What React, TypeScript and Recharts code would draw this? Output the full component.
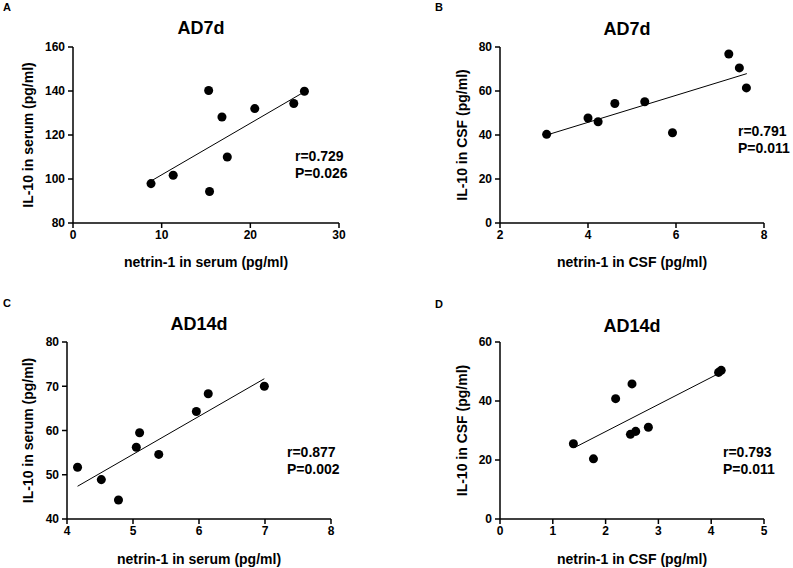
import {
  ScatterChart,
  Scatter,
  XAxis,
  YAxis,
  ZAxis,
  ReferenceLine,
} from "recharts";

// panel A – AD7d serum
const aNetrin = [8.8, 11.3, 15.3, 15.4, 16.8, 17.4, 20.5, 24.9, 26.1];
const aIl10 = [97.9, 101.7, 140.2, 94.3, 128.2, 110.0, 132.0, 134.3, 139.9];
const aFitX = [8.85, 26.0];
const aFitY = [99.2, 139.4];

// panel B – AD7d CSF
const bNetrin = [3.06, 4.0, 4.23, 4.61, 5.29, 5.92, 7.2, 7.44, 7.6];
const bIl10 = [40.3, 47.7, 46.0, 54.3, 55.1, 41.0, 76.8, 70.5, 61.4];
const bFitX = [3.08, 7.61];
const bFitY = [40.1, 67.9];

// panel C – AD14d serum
const cNetrin = [4.16, 4.52, 4.78, 5.05, 5.1, 5.39, 5.96, 6.14, 6.99];
const cIl10 = [51.7, 48.9, 44.3, 56.2, 59.5, 54.6, 64.3, 68.3, 70.0];
const cFitX = [4.16, 6.99];
const cFitY = [47.4, 71.7];

// panel D – AD14d CSF
const dNetrin = [1.39, 1.77, 2.19, 2.47, 2.5, 2.57, 2.81, 4.14, 4.19];
const dIl10 = [25.5, 20.4, 40.8, 28.7, 45.8, 29.7, 31.1, 49.7, 50.4];
const dFitX = [1.42, 4.13];
const dFitY = [24.3, 49.2];

const aXTicks = [0, 10, 20, 30];
const aYTicks = [80, 100, 120, 140, 160];
const bXTicks = [2, 4, 6, 8];
const bYTicks = [0, 20, 40, 60, 80];
const cXTicks = [4, 5, 6, 7, 8];
const cYTicks = [40, 50, 60, 70, 80];
const dXTicks = [0, 1, 2, 3, 4, 5];
const dYTicks = [0, 20, 40, 60];

const FONT = "'Liberation Sans', Arial, Helvetica, sans-serif";
const AXIS = { stroke: "#000", strokeWidth: 1.5 };
const TICK = { fill: "#000", fontSize: 12, fontWeight: 700 };

const toPoints = (xs: number[], ys: number[]) => xs.map((x, i) => ({ x, y: ys[i] }));

interface PanelProps {
  letter: string;
  title: string;
  xLabel: string;
  yLabel: string;
  xs: number[];
  ys: number[];
  fitX: number[];
  fitY: number[];
  xTicks: number[];
  yTicks: number[];
  r: string;
  p: string;
  left: number;
  top: number;
  width: number;
  height: number;
  plotLeft: number;
  plotTop: number;
  plotRight: number;
  plotBottom: number;
  yLabelX: number;
  xLabelGap: number;
  titleX: number;
  titleTop: number;
  letterX: number;
  letterTop: number;
  statX: number;
  statTop: number;
}

function Panel(pr: PanelProps) {
  const data = toPoints(pr.xs, pr.ys);
  const xAxisH = pr.height - pr.plotBottom;
  return (
    <>
      <div style={{ position: "absolute", left: pr.left, top: pr.top }}>
        <ScatterChart
          width={pr.width}
          height={pr.height}
          margin={{ top: pr.plotTop, right: pr.width - pr.plotRight, left: 0, bottom: 0 }}
        >
          <XAxis
            type="number"
            dataKey="x"
            domain={[pr.xTicks[0], pr.xTicks[pr.xTicks.length - 1]]}
            ticks={pr.xTicks}
            height={xAxisH}
            axisLine={AXIS}
            tickLine={AXIS}
            tickSize={5}
            tickMargin={2}
            tick={TICK}
            label={{
              value: pr.xLabel,
              position: "insideBottom",
              offset: xAxisH - pr.xLabelGap,
              style: { fill: "#000", fontSize: 14, fontWeight: 700 },
            }}
          />
          <YAxis
            type="number"
            dataKey="y"
            domain={[pr.yTicks[0], pr.yTicks[pr.yTicks.length - 1]]}
            ticks={pr.yTicks}
            width={pr.plotLeft}
            axisLine={AXIS}
            tickLine={AXIS}
            tickSize={5}
            tickMargin={3}
            tick={TICK}
            label={{
              value: pr.yLabel,
              angle: -90,
              position: "insideLeft",
              offset: pr.yLabelX,
              style: { fill: "#000", fontSize: 14, fontWeight: 700, textAnchor: "middle" },
            }}
          />
          <ZAxis range={[52, 52]} />
          <ReferenceLine
            segment={[
              { x: pr.fitX[0], y: pr.fitY[0] },
              { x: pr.fitX[1], y: pr.fitY[1] },
            ]}
            stroke="#000"
            strokeWidth={1}
            ifOverflow="visible"
          />
          <Scatter data={data} fill="#000" isAnimationActive={false} />
        </ScatterChart>
      </div>
      <div
        style={{
          position: "absolute",
          left: pr.titleX - 100,
          top: pr.titleTop,
          width: 200,
          textAlign: "center",
          fontSize: 18,
          lineHeight: "18px",
          fontWeight: 700,
        }}
      >
        {pr.title}
      </div>
      <div
        style={{
          position: "absolute",
          left: pr.letterX,
          top: pr.letterTop,
          fontSize: 11,
          lineHeight: "11px",
          fontWeight: 700,
        }}
      >
        {pr.letter}
      </div>
      <div
        style={{
          position: "absolute",
          left: pr.statX,
          top: pr.statTop,
          fontSize: 14,
          lineHeight: "17px",
          fontWeight: 700,
          whiteSpace: "nowrap",
        }}
      >
        <div>{pr.r}</div>
        <div>{pr.p}</div>
      </div>
    </>
  );
}

export default function App() {
  return (
    <div
      style={{
        position: "absolute",
        left: 0,
        top: 0,
        width: 793,
        height: 568,
        background: "#fff",
        fontFamily: FONT,
        color: "#000",
        overflow: "hidden",
      }}
    >
      <Panel
        letter="A"
        title="AD7d"
        xLabel="netrin-1 in serum (pg/ml)"
        yLabel="IL-10 in serum (pg/ml)"
        xs={aNetrin}
        ys={aIl10}
        fitX={aFitX}
        fitY={aFitY}
        xTicks={aXTicks}
        yTicks={aYTicks}
        r="r=0.729"
        p="P=0.026"
        left={0}
        top={0}
        width={390}
        height={280}
        plotLeft={73}
        plotTop={47}
        plotRight={339}
        plotBottom={223}
        yLabelX={28}
        xLabelGap={44}
        titleX={201}
        titleTop={19}
        letterX={3}
        letterTop={2}
        statX={295}
        statTop={148}
      />
      <Panel
        letter="B"
        title="AD7d"
        xLabel="netrin-1 in CSF (pg/ml)"
        yLabel="IL-10 in CSF (pg/ml)"
        xs={bNetrin}
        ys={bIl10}
        fitX={bFitX}
        fitY={bFitY}
        xTicks={bXTicks}
        yTicks={bYTicks}
        r="r=0.791"
        p="P=0.011"
        left={390}
        top={0}
        width={403}
        height={280}
        plotLeft={110}
        plotTop={47}
        plotRight={374}
        plotBottom={223}
        yLabelX={72}
        xLabelGap={44}
        titleX={627}
        titleTop={20}
        letterX={435}
        letterTop={2}
        statX={738}
        statTop={123}
      />
      <Panel
        letter="C"
        title="AD14d"
        xLabel="netrin-1 in serum (pg/ml)"
        yLabel="IL-10 in serum (pg/ml)"
        xs={cNetrin}
        ys={cIl10}
        fitX={cFitX}
        fitY={cFitY}
        xTicks={cXTicks}
        yTicks={cYTicks}
        r="r=0.877"
        p="P=0.002"
        left={0}
        top={280}
        width={390}
        height={288}
        plotLeft={67}
        plotTop={62}
        plotRight={331}
        plotBottom={239}
        yLabelX={28}
        xLabelGap={45}
        titleX={199}
        titleTop={315}
        letterX={3}
        letterTop={298}
        statX={287}
        statTop={444}
      />
      <Panel
        letter="D"
        title="AD14d"
        xLabel="netrin-1 in CSF (pg/ml)"
        yLabel="IL-10 in CSF (pg/ml)"
        xs={dNetrin}
        ys={dIl10}
        fitX={dFitX}
        fitY={dFitY}
        xTicks={dXTicks}
        yTicks={dYTicks}
        r="r=0.793"
        p="P=0.011"
        left={390}
        top={280}
        width={403}
        height={288}
        plotLeft={110}
        plotTop={62}
        plotRight={374}
        plotBottom={239}
        yLabelX={72}
        xLabelGap={45}
        titleX={632}
        titleTop={317}
        letterX={435}
        letterTop={299}
        statX={723}
        statTop={444}
      />
    </div>
  );
}
